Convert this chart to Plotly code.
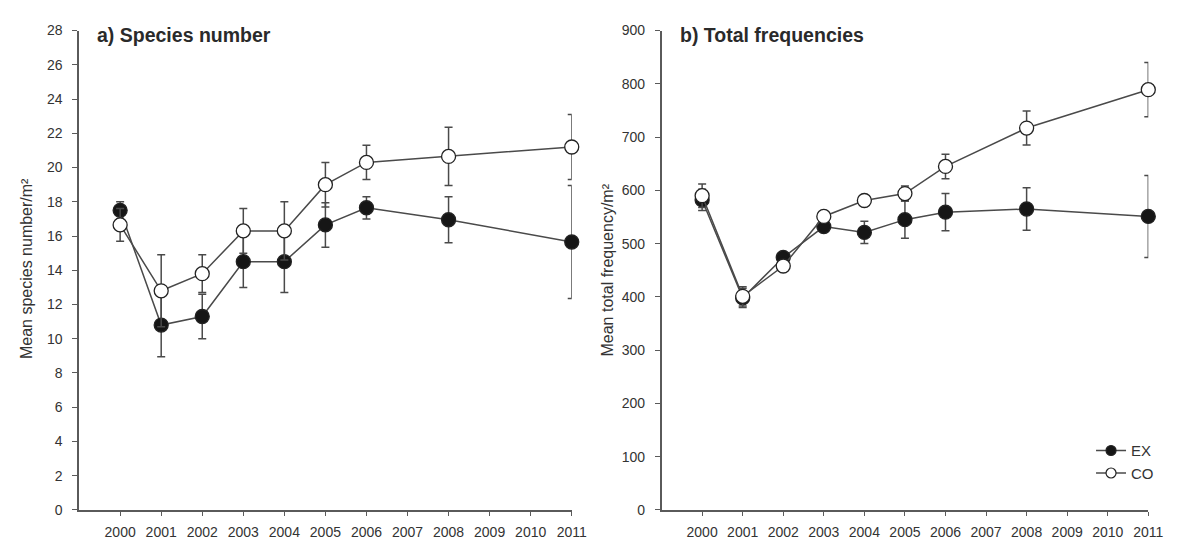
import plotly.graph_objects as go

years = [2000, 2001, 2002, 2003, 2004, 2005, 2006, 2008, 2011]
tick_years = [2000, 2001, 2002, 2003, 2004, 2005, 2006, 2007, 2008, 2009, 2010, 2011]
series_names = ["EX", "CO"]

# a) Species number
sp_ex = [17.5, 10.8, 11.3, 14.5, 14.5, 16.65, 17.65, 16.95, 15.65]
sp_ex_err = [0.5, 1.85, 1.3, 1.5, 1.8, 1.3, 0.65, 1.35, 3.3]
sp_co = [16.65, 12.8, 13.8, 16.3, 16.3, 19.0, 20.3, 20.65, 21.2]
sp_co_err = [0.95, 2.1, 1.1, 1.3, 1.7, 1.3, 1.0, 1.7, 1.9]

# b) Total frequencies
tf_ex = [582, 398, 474, 532, 521, 545, 559, 565, 551]
tf_ex_err = [20, 18, 8, 8, 21, 35, 35, 40, 77]
tf_co = [590, 401, 458, 551, 581, 594, 645, 717, 789]
tf_co_err = [22, 18, 6, 6, 6, 14, 23, 32, 51]

AX = "#5a5a5a"
TXT = "#333333"
LINE = "#4a4a4a"
FONT = "Liberation Sans, Arial"

fig = go.Figure()

def add(x, y, err, filled, name, xa, ya):
    fig.add_trace(go.Scatter(
        x=x, y=y, mode="lines+markers", name=name, legendgroup=name,
        xaxis=xa, yaxis=ya, showlegend=False, cliponaxis=False,
        line=dict(color=LINE, width=1.5),
        marker=dict(size=14, symbol="circle",
                    color="#161616" if filled else "white",
                    line=dict(color="#222222", width=1.3)),
        error_y=dict(type="data", array=err, visible=True,
                     color=LINE, thickness=1.5, width=4),
    ))

add(years, sp_ex, sp_ex_err, True, "EX", "x", "y")
add(years, sp_co, sp_co_err, False, "CO", "x", "y")
add(years, tf_ex, tf_ex_err, True, "EX", "x2", "y2")
add(years, tf_co, tf_co_err, False, "CO", "x2", "y2")

# legend entries (smaller symbols, as in the reference)
for name, filled in zip(series_names, [True, False]):
    fig.add_trace(go.Scatter(
        x=[None], y=[None], mode="lines+markers", name=name, legendgroup=name,
        xaxis="x2", yaxis="y2", showlegend=True,
        line=dict(color=LINE, width=1.5),
        marker=dict(size=10, symbol="circle",
                    color="#161616" if filled else "white",
                    line=dict(color="#222222", width=1.2)),
    ))

W, H = 1178, 541
ybot = (H - 509) / H
ytop = (H - 15) / H

xcommon = dict(range=[1999, 2011], tickvals=tick_years, ticktext=[str(v) for v in tick_years],
               ticks="outside", ticklen=4, tickwidth=1.3, tickcolor=AX, ticklabelstandoff=5,
               showline=True, linecolor=AX, linewidth=1.5, showgrid=False, zeroline=False,
               tickfont=dict(family=FONT, size=14, color=TXT))
ycommon = dict(ticks="outside", ticklen=5, tickwidth=1.3, tickcolor=AX, ticklabelstandoff=7,
               showline=True, linecolor=AX, linewidth=1.5, showgrid=False, zeroline=False,
               tickfont=dict(family=FONT, size=14, color=TXT))

fig.update_layout(
    width=W, height=H,
    margin=dict(l=0, r=0, t=0, b=0),
    paper_bgcolor="white", plot_bgcolor="white",
    xaxis=dict(domain=[72 / W, 571 / W], anchor="y", **xcommon),
    yaxis=dict(domain=[ybot, ytop], anchor="x", range=[0, 28], dtick=2, **ycommon),
    xaxis2=dict(domain=[662 / W, 1155 / W], anchor="y2", **xcommon),
    yaxis2=dict(domain=[ybot, ytop], anchor="x2", range=[0, 900], dtick=100, **ycommon),
    legend=dict(x=1097 / W, y=(H - 431) / H, xanchor="left", yanchor="top",
                bgcolor="rgba(0,0,0,0)", traceorder="grouped", tracegroupgap=0,
                font=dict(family=FONT, size=15, color=TXT)),
    font=dict(family=FONT, color=TXT),
    annotations=[
        dict(text="<b>a) Species number</b>", x=88 / W, y=(H - 20) / H, xref="paper", yref="paper",
             xanchor="left", yanchor="middle", showarrow=False,
             font=dict(family=FONT, size=19.5, color="#2a2a2a")),
        dict(text="<b>b) Total frequencies</b>", x=679 / W, y=(H - 20) / H, xref="paper", yref="paper",
             xanchor="left", yanchor="middle", showarrow=False,
             font=dict(family=FONT, size=19.5, color="#2a2a2a")),
        dict(text="Mean species number/m²", x=19 / W, y=(H - 260) / H, xref="paper", yref="paper",
             xanchor="center", yanchor="middle", showarrow=False, textangle=-90,
             font=dict(family=FONT, size=16, color=TXT)),
        dict(text="Mean total frequency/m²", x=607 / W, y=(H - 262) / H, xref="paper", yref="paper",
             xanchor="center", yanchor="middle", showarrow=False, textangle=-90,
             font=dict(family=FONT, size=16, color=TXT)),
    ],
)

fig.write_html("out.html")
